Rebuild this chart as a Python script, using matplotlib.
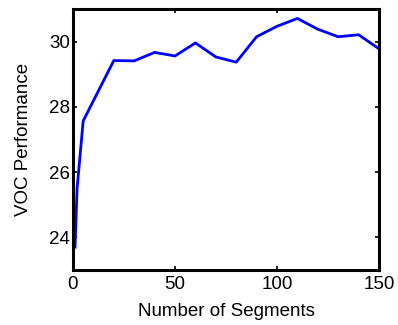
import matplotlib
matplotlib.use("Agg")
import matplotlib.pyplot as plt

segments = [1, 2, 5, 20, 30, 40, 50, 60, 70, 80, 90, 100, 110, 120, 130, 140, 150]
performance = [23.7, 25.5, 27.57, 29.42, 29.41, 29.67, 29.56, 29.96, 29.53, 29.37,
               30.15, 30.47, 30.71, 30.38, 30.15, 30.21, 29.78]
x_ticks = [0, 50, 100, 150]
y_ticks = [24, 26, 28, 30]

plt.rcParams['font.family'] = ['Liberation Sans', 'DejaVu Sans']
fig = plt.figure(figsize=(3.98, 3.25), dpi=100)
ax = fig.add_axes([73/398, 1-270/325, (379-73)/398, (270-9)/325])
ax.plot(segments, performance, color='#0000ff', linewidth=2)
ax.set_xlim(0, 150)
ax.set_ylim(23, 31)
ax.set_xticks(x_ticks)
ax.set_yticks(y_ticks)
ax.tick_params(direction='in', length=3, width=1.2, top=True, right=True,
               labelsize=13.5, color='black')
ax.tick_params(axis='x', pad=4)
ax.tick_params(axis='y', pad=2)
for s in ax.spines.values():
    s.set_linewidth(2.2)
ax.set_xlabel('Number of Segments', fontsize=13.5)
ax.set_ylabel('VOC Performance', fontsize=13.5)
ax.xaxis.set_label_coords(0.5, -(312-270)/261)
ax.xaxis.label.set_va('center')
ax.yaxis.set_label_coords(-(73-24)/306, 0.5)
ax.yaxis.label.set_va('center')
fig.savefig('out.png', dpi=100)
